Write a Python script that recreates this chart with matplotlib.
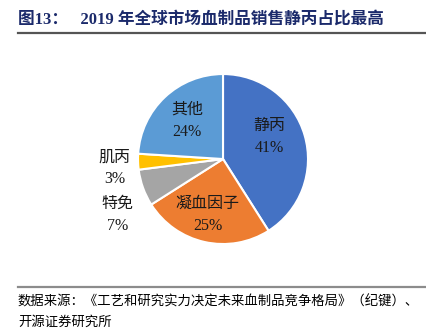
import numpy as np
import matplotlib.pyplot as plt
from matplotlib.lines import Line2D

# 2019 global plasma product sales share
labels = ["静丙", "凝血因子", "特免", "肌丙", "其他"]
shares = [41, 25, 7, 3, 24]
colors = ["#4472C4", "#ED7D31", "#A5A5A5", "#FFC000", "#5B9BD5"]
# label placement: distance from centre (radii) and angle nudge (deg)
label_dist = [0.60, 0.68, 1.40, 1.28, 0.62]
label_shift = [9, -3, 8, 3, 0]

title = "图13：   2019 年全球市场血制品销售静丙占比最高"
source = ["数据来源：《工艺和研究实力决定未来血制品竞争格局》（纪键）、",
          "开源证券研究所"]

fam = ["Liberation Serif", "Noto Sans CJK SC", "DejaVu Sans"]
plt.rcParams['font.family'] = fam

fig = plt.figure(figsize=(4.26, 3.32), dpi=100)

ax = fig.add_axes([0.274, 0.201, 0.499, 0.640])
wedges, _ = ax.pie(shares, colors=colors, startangle=90, counterclock=False,
                   wedgeprops=dict(edgecolor="white", linewidth=1.5))
ax.set_xlim(-1.25, 1.25)
ax.set_ylim(-1.25, 1.25)
ax.set_aspect("equal")

for w, lab, val, d, s in zip(wedges, labels, shares, label_dist, label_shift):
    mid = np.deg2rad((w.theta1 + w.theta2) / 2 + s)
    ax.text(d * np.cos(mid), d * np.sin(mid), f"{lab}\n{val}%",
            ha="center", va="center", fontsize=11.5, color="#1a1a1a",
            linespacing=1.5)

# title and rules
fig.text(18 / 426, 1 - 20 / 332, title, fontsize=12, fontweight="bold",
         color="#1B2A6B", va="center", ha="left")
fig.add_artist(Line2D([18 / 426, 1], [1 - 33 / 332] * 2, color="#555555",
                      linewidth=1.6, transform=fig.transFigure))
fig.add_artist(Line2D([18 / 426, 1], [1 - 287 / 332] * 2, color="#8c8c8c",
                      linewidth=1.6, transform=fig.transFigure))

fig.text(18 / 426, 1 - 302 / 332, source[0], fontsize=9.6, va="center")
fig.text(18 / 426, 1 - 322 / 332, source[1], fontsize=9.6, va="center")

fig.savefig("out.png", dpi=100)
